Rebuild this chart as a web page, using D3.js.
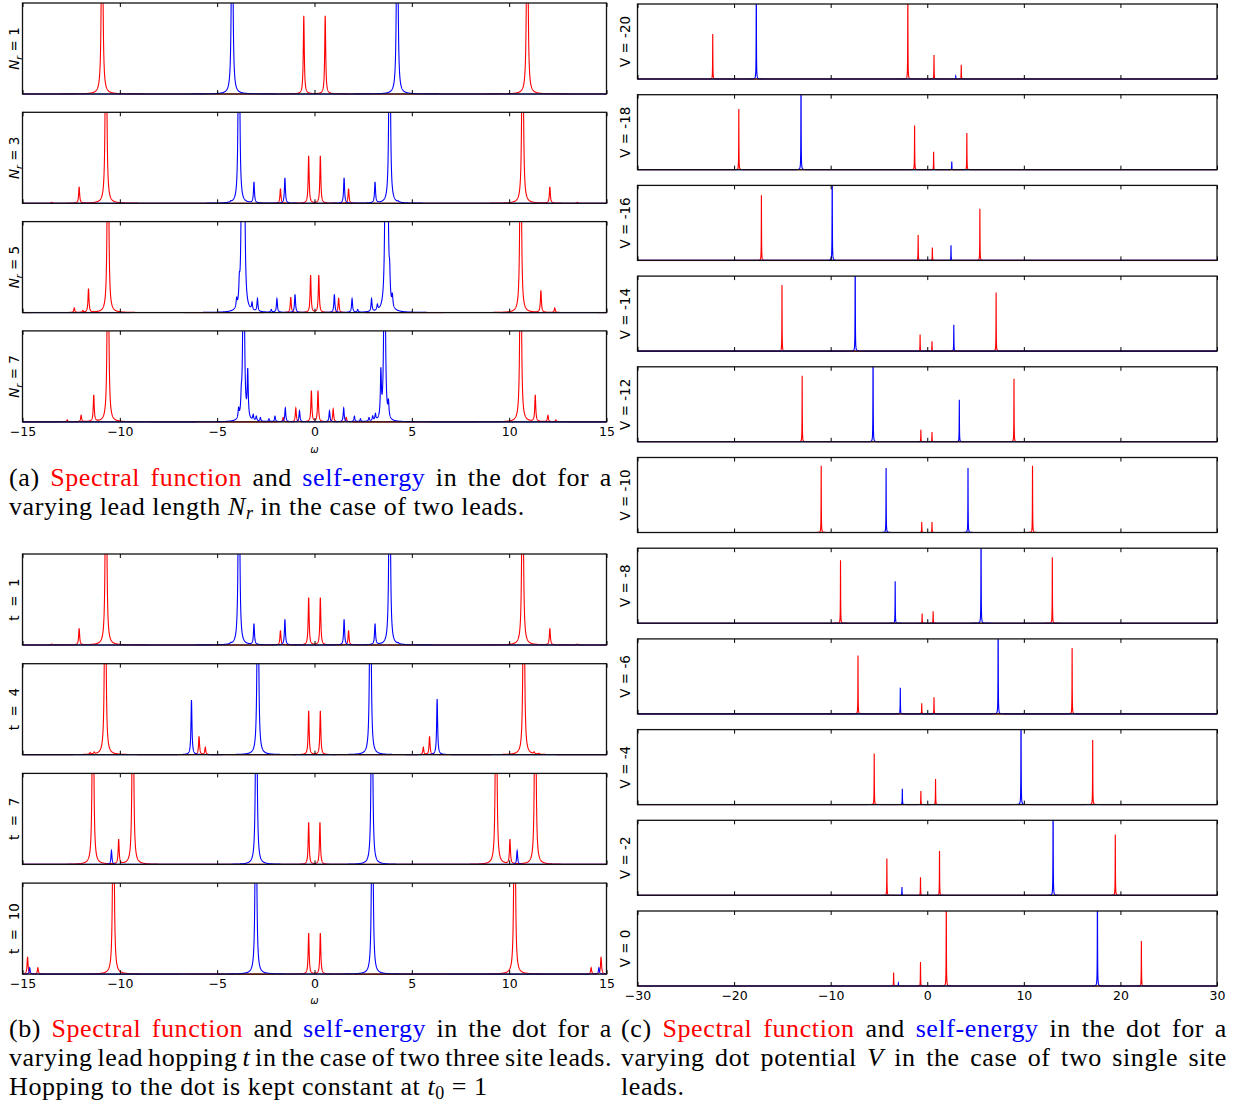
<!DOCTYPE html>
<html>
<head>
<meta charset="utf-8">
<script src="https://cdn.jsdelivr.net/npm/d3@7"></script>
<style>
    body { margin:0; background:#fff; }
    .tick text { font-family:"DejaVu Sans", sans-serif; font-size:12.5px; fill:#000; }
    .cap { font-family:"Liberation Serif", serif; font-size:26px; letter-spacing:0.6px; fill:#000; white-space:pre; }
    .ylab { font-family:"DejaVu Sans", sans-serif; font-size:13.5px; fill:#000; white-space:pre; }
</style>
</head>
<body>
<div class="main__area"></div>
<script>
// peaks are [omega, height], height 1 = top of the panel (taller ones are clipped)
// (a) varying lead length N_r
const aLabels=[1, 3, 5, 7];
const aN1Spectral=[[-10.91,4],[-0.55,0.86],[0.55,0.86],[10.93,4]];
const aN1Self=[[-4.23,4],[4.25,4]];
const aN3Spectral=[[-13.5,0.01],[-12.09,0.18],[-10.71,4],[-1.75,0.16],[-0.30,0.52],[0.30,0.52],[1.75,0.16],[10.69,4],[12.09,0.18],[13.5,0.01]];
const aN3Self=[[-4.3,0.01],[-3.88,4],[-3.11,0.23],[-1.52,0.28],[1.52,0.28],[3.11,0.23],[3.86,4],[4.3,0.01]];
const aN5Spectral=[[-12.34,0.05],[-11.9,0.02],[-11.61,0.26],[-10.61,4],[-1.22,0.17],[-0.20,0.41],[0.22,0.41],[1.24,0.16],[10.59,4],[11.63,0.24],[12.34,0.05]];
const aN5Self=[[-4.0,0.09],[-3.86,0.2],[-3.72,4],[-3.62,4],[-3.21,0.08],[-2.93,0.14],[-2.22,0.03],[-1.93,0.15],[-1.0,0.2],
    [1.02,0.2],[1.93,0.15],[2.22,0.03],[2.93,0.14],[3.23,0.06],[3.66,4],[3.74,4],[3.86,0.25],[4.0,0.12]];
const aN7Spectral=[[-12.7,0.02],[-11.99,0.07],[-11.34,0.29],[-10.61,4],[-1.61,0.05],[-0.96,0.15],[-0.16,0.34],[0.18,0.34],
    [0.96,0.14],[1.63,0.05],[10.59,4],[11.34,0.29],[11.99,0.07],[12.4,0.02]];
const aN7Self=[[-3.9,0.1],[-3.76,0.17],[-3.64,4],[-3.43,0.51],[-3.15,0.06],[-2.99,0.05],[-2.78,0.04],[-2.34,0.03],[-2.03,0.06],
    [-1.5,0.15],[-0.77,0.12],[0.77,0.12],[1.5,0.15],[2.05,0.06],[2.36,0.03],[2.8,0.04],[2.99,0.05],[3.13,0.07],[3.41,0.5],[3.6,4],[3.8,0.16]];

// (b) varying lead hopping t (t = 1 is the same system as N_r = 3)
const bLabels=[1, 4, 7, 10];
const bT1Spectral=aN3Spectral;
const bT1Self=aN3Self;
const bT4Spectral=[[-11.52,0.02],[-11.32,0.02],[-10.75,4],[-5.93,0.2],[-5.61,0.08],[-0.30,0.48],[0.30,0.48],[5.59,0.08],[5.91,0.2],[10.75,4],[11.28,0.02],[11.52,0.01]];
const bT4Self=[[-6.32,0.6],[-2.91,4],[2.87,4],[6.3,0.61]];
const bT7Spectral=[[-11.38,4],[-10.06,0.27],[-9.33,4],[-0.30,0.46],[0.28,0.46],[9.33,4],[10.04,0.27],[11.34,4]];
const bT7Self=[[-10.43,0.15],[-2.99,4],[2.95,4],[10.41,0.15]];
const bT10Spectral=[[-14.74,0.19],[-14.21,0.07],[-10.33,4],[-0.30,0.45],[0.30,0.45],[10.28,4],[14.21,0.07],[14.72,0.19]];
const bT10Self=[[-14.63,0.07],[-3.01,4],[2.97,4],[14.61,0.07]];

// (c) varying dot potential V
const cLabels=[-20, -18, -16, -14, -12, -10, -8, -6, -4, -2, 0];
const cSpectral=[
    [[-22.21,0.6],[-2.01,1.3],[0.70,0.32],[3.52,0.19]],
    [[-19.51,0.81],[-1.31,0.59],[0.66,0.24],[4.1,0.49]],
    [[-17.17,0.87],[-0.94,0.34],[0.53,0.17],[5.45,0.69]],
    [[-15.04,0.88],[-0.74,0.22],[0.49,0.13],[7.13,0.78]],
    [[-12.95,0.88],[-0.66,0.16],[0.49,0.13],[8.98,0.84]],
    [[-10.98,0.89],[-0.57,0.14],[0.49,0.14],[10.9,0.89]],
    [[-8.98,0.84],[-0.53,0.13],[0.61,0.16],[12.95,0.88]],
    [[-7.17,0.78],[-0.57,0.14],[0.7,0.22],[15.0,0.88]],
    [[-5.49,0.68],[-0.66,0.18],[0.86,0.34],[17.13,0.86]],
    [[-4.18,0.49],[-0.7,0.24],[1.27,0.59],[19.47,0.81]],
    [[-3.48,0.18],[-0.7,0.32],[1.97,1.3],[22.17,0.6]]
];
const cSelf=[
    [[-17.70,1.5],[2.95,0.04]],
    [[-13.07,1.5],[2.54,0.11]],
    [[-9.84,1.5],[2.46,0.2]],
    [[-7.46,1.5],[2.75,0.35]],
    [[-5.61,1.5],[3.32,0.56]],
    [[-4.26,0.86],[4.22,0.86]],
    [[-3.32,0.56],[5.57,1.5]],
    [[-2.79,0.35],[7.34,1.5]],
    [[-2.58,0.21],[9.71,1.5]],
    [[-2.62,0.11],[13.03,1.5]],
    [[-2.99,0.04],[17.62,1.5]]
];

const leftDomain=[-15, 15];
const rightDomain=[-30, 30];
const leftTicks=[-15, -10, -5, 0, 5, 10, 15];
const rightTicks=[-30, -20, -10, 0, 10, 20, 30];

const captionA=[
    "(a) R:Spectral R:function and B:self-energy in the dot for a",
    "varying lead length M:N|r in the case of two leads."
];
const captionB=[
    "(b) R:Spectral R:function and B:self-energy in the dot for a",
    "varying lead hopping M:t in the case of two three site leads.",
    "Hopping to the dot is kept constant at M:t|0 = 1"
];
const captionC=[
    "(c) R:Spectral R:function and B:self-energy in the dot for a",
    "varying dot potential M:V in the case of two single site",
    "leads."
];

const width=1241;
const height=1104;
const svgTag=d3.select(".main__area").append("svg")
    .attr("width", width)
    .attr("height", height)
    .style("background", "#fff");

let clipCount=0;

function sampleCurve(peaks, domain, eta, step) {
    let grid=d3.range(domain[0], domain[1] + step/2, step);
    peaks.forEach(([w0])=>{
        for (let k=-60; k<=60; k++) grid.push(w0 + k*eta/6);
    });
    grid=grid.filter(w => w>=domain[0] && w<=domain[1]).sort((a, b)=>a-b);
    return grid.map(w => [w, Math.min(1.1, d3.sum(peaks, ([w0, h]) => h*eta*eta/((w-w0)*(w-w0) + eta*eta)))]);
}

function drawPanel({ x0, x1, top, h, domain, ticks, showLabels, spectral, self, eta, step }) {
    const x=d3.scaleLinear().domain(domain).range([x0, x1]);
    const y=d3.scaleLinear().domain([0, 1]).range([top + h, top]);
    const id="clip" + (clipCount++);
    svgTag.append("clipPath").attr("id", id)
        .append("rect").attr("x", x0).attr("y", top).attr("width", x1-x0).attr("height", h + 1);

    const line=d3.line().x(d => x(d[0])).y(d => y(d[1]));
    const g=svgTag.append("g").attr("clip-path", `url(#${id})`);
    [[spectral, "#ff0000"], [self, "#0000ff"]].forEach(([peaks, color])=>{
        g.append("path")
            .datum(sampleCurve(peaks, domain, eta, step))
            .attr("d", line)
            .attr("fill", "none")
            .attr("stroke", color)
            .attr("stroke-width", 1.1);
    });

    svgTag.append("rect")
        .attr("x", x0).attr("y", top).attr("width", x1-x0).attr("height", h)
        .attr("fill", "none").attr("stroke", "#111").attr("stroke-width", 1.3);

    const axB=d3.axisBottom(x).tickValues(ticks).tickSizeInner(-4).tickSizeOuter(0).tickPadding(5);
    if (!showLabels) axB.tickFormat("");
    svgTag.append("g").attr("transform", `translate(0,${top + h})`).call(axB)
        .call(a => a.select(".domain").remove());
    const axT=d3.axisTop(x).tickValues(ticks).tickSizeInner(-4).tickSizeOuter(0).tickFormat("");
    svgTag.append("g").attr("transform", `translate(0,${top})`).call(axT)
        .call(a => a.select(".domain").remove());
    return x;
}

function yLabel(xPos, yPos, parts) {
    const t=svgTag.append("text").attr("class", "ylab")
        .attr("transform", `translate(${xPos},${yPos}) rotate(-90)`)
        .attr("text-anchor", "middle");
    parts.forEach(p=>{
        const ts=t.append("tspan").text(p.s);
        if (p.it) ts.style("font-style", "italic");
        if (p.sub) ts.style("font-size", "9.5px").attr("dy", 3);
        if (p.up) ts.attr("dy", -3);
    });
}

// group (a)
const groupA=[[aN1Spectral, aN1Self], [aN3Spectral, aN3Self], [aN5Spectral, aN5Self], [aN7Spectral, aN7Self]];
let xLeft;
groupA.forEach(([spectral, self], i)=>{
    const top=3 + i*109.3;
    xLeft=drawPanel({ x0:22.5, x1:606.5, top, h:91, domain:leftDomain, ticks:leftTicks,
        showLabels:i===groupA.length-1, spectral, self, eta:0.03, step:0.005 });
    yLabel(19, top + 45.5, [{ s:"N", it:true }, { s:"r", it:true, sub:true }, { s:" = " + aLabels[i], up:true }]);
});
svgTag.append("text").attr("x", xLeft(0)).attr("y", 453).attr("text-anchor", "middle")
    .style("font-family", "DejaVu Sans").style("font-style", "italic").style("font-size", "10px").text("ω");

// group (b)
const groupB=[[bT1Spectral, bT1Self], [bT4Spectral, bT4Self], [bT7Spectral, bT7Self], [bT10Spectral, bT10Self]];
groupB.forEach(([spectral, self], i)=>{
    const top=554 + i*109.7;
    xLeft=drawPanel({ x0:22.5, x1:606.5, top, h:91, domain:leftDomain, ticks:leftTicks,
        showLabels:i===groupB.length-1, spectral, self, eta:0.03, step:0.005 });
    yLabel(19, top + 45.5, [{ s:"t  =  " + bLabels[i] }]);
});
svgTag.append("text").attr("x", xLeft(0)).attr("y", 1004).attr("text-anchor", "middle")
    .style("font-family", "DejaVu Sans").style("font-style", "italic").style("font-size", "10px").text("ω");

// group (c)
cLabels.forEach((v, i)=>{
    const top=4 + i*90.7;
    drawPanel({ x0:637.5, x1:1217, top, h:75, domain:rightDomain, ticks:rightTicks,
        showLabels:i===cLabels.length-1, spectral:cSpectral[i], self:cSelf[i], eta:0.015, step:0.01 });
    yLabel(630, top + 37.5, [{ s:"V = " + v }]);
});

// captions, justified word by word like the LaTeX source
function parseToken(tok) {
    if (tok.startsWith("R:")) return [{ s:tok.slice(2), fill:"#ff0000" }];
    if (tok.startsWith("B:")) return [{ s:tok.slice(2), fill:"#0000ff" }];
    if (tok.startsWith("M:")) {
        const [base, sub]=tok.slice(2).split("|");
        const segs=[{ s:base, it:true }];
        if (sub) segs.push({ s:sub, sub:true, it:/[a-z]/.test(sub) });
        return segs;
    }
    return [{ s:tok }];
}

function drawCaption(lines, justify, x0, x1, y0, gap) {
    lines.forEach((str, i)=>{
        const y=y0 + i*gap;
        const nodes=str.split(" ").map(tok=>{
            const t=svgTag.append("text").attr("class", "cap").attr("y", y);
            parseToken(tok).forEach(seg=>{
                const ts=t.append("tspan").text(seg.s);
                if (seg.fill) ts.attr("fill", seg.fill);
                if (seg.it) ts.style("font-style", "italic");
                if (seg.sub) ts.style("font-size", "18px").attr("dy", 4);
            });
            return t;
        });
        const widths=nodes.map(n => n.node().getComputedTextLength());
        const space=justify[i] ? (x1-x0-d3.sum(widths))/(nodes.length-1) : 7;
        let x=x0;
        nodes.forEach((n, j)=>{
            n.attr("x", x);
            x+=widths[j] + space;
        });
    });
}

drawCaption(captionA, [true, false], 9, 612, 486, 29);
drawCaption(captionB, [true, true, false], 9, 612, 1037, 29);
drawCaption(captionC, [true, true, false], 621, 1227, 1037, 29);
</script>
</body>
</html>
